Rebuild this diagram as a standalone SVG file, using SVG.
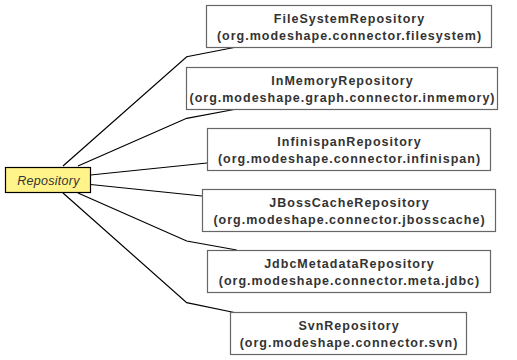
<svg xmlns="http://www.w3.org/2000/svg" width="517" height="360" viewBox="0 0 517 360">
<style>
.bx{fill:#fff;stroke:#666;stroke-width:1.2}
.t{font-family:"Liberation Sans",Arial,sans-serif;font-size:12.5px;font-weight:bold;fill:#333;text-anchor:middle;letter-spacing:1px}
.e{fill:none;stroke:#000;stroke-width:1.2}
</style>
<rect width="517" height="360" fill="#fff"/>
<g id="connectors">
<polyline class="e" points="63,166 186.7,56.7 236.7,47"/>
<polyline class="e" points="78,166 186.7,118.3 236.7,109"/>
<polyline class="e" points="90.5,175 207,163"/>
<polyline class="e" points="90.5,184.5 202,196"/>
<polyline class="e" points="78,193 186.7,241 236.7,250"/>
<polyline class="e" points="63,193 186.7,302.7 236.7,313"/>
</g>
<g id="Repository">
<rect x="5.5" y="167.5" width="85" height="25" fill="#fff38a" stroke="#000" stroke-width="1.2"/>
<text x="48.5" y="184.5" font-family="Liberation Sans,Arial,sans-serif" font-size="12.5" font-style="italic" fill="#333" text-anchor="middle" letter-spacing="0.3">Repository</text>
</g>
<g id="FileSystemRepository">
<rect class="bx" x="206.5" y="5.5" width="285" height="42"/>
<text class="t" x="349.5" y="23">FileSystemRepository</text>
<text class="t" x="349.5" y="40">(org.modeshape.connector.filesystem)</text>
</g>
<g id="InMemoryRepository">
<rect class="bx" x="186.5" y="67.5" width="311" height="42"/>
<text class="t" x="342.5" y="85">InMemoryRepository</text>
<text class="t" x="342.5" y="102">(org.modeshape.graph.connector.inmemory)</text>
</g>
<g id="InfinispanRepository">
<rect class="bx" x="207.5" y="128.5" width="283" height="42"/>
<text class="t" x="349.5" y="146">InfinispanRepository</text>
<text class="t" x="349.5" y="163">(org.modeshape.connector.infinispan)</text>
</g>
<g id="JBossCacheRepository">
<rect class="bx" x="202.5" y="189.5" width="293" height="42"/>
<text class="t" x="349.5" y="207">JBossCacheRepository</text>
<text class="t" x="349.5" y="224">(org.modeshape.connector.jbosscache)</text>
</g>
<g id="JdbcMetadataRepository">
<rect class="bx" x="207.5" y="250.5" width="283" height="42"/>
<text class="t" x="349.5" y="268">JdbcMetadataRepository</text>
<text class="t" x="349.5" y="285">(org.modeshape.connector.meta.jdbc)</text>
</g>
<g id="SvnRepository">
<rect class="bx" x="230.5" y="312.5" width="236" height="42"/>
<text class="t" x="349" y="330">SvnRepository</text>
<text class="t" x="349" y="347">(org.modeshape.connector.svn)</text>
</g>
</svg>
